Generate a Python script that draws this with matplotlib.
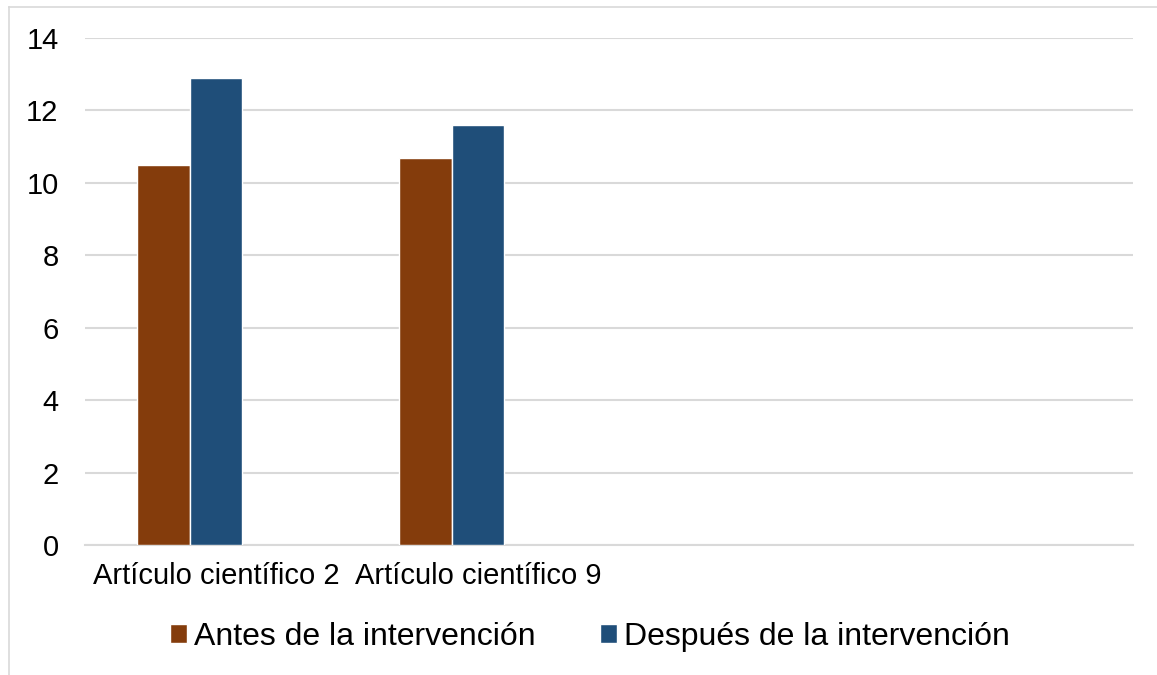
import matplotlib
matplotlib.use("Agg")
import matplotlib.pyplot as plt
from matplotlib.lines import Line2D
import numpy as np

plt.rcParams['font.family'] = ['Liberation Sans', 'DejaVu Sans']

categories = ["Artículo científico 2", "Artículo científico 9", "", ""]
series_names = ["Antes de la intervención", "Después de la intervención"]
antes = [10.5, 10.7, np.nan, np.nan]
despues = [12.9, 11.6, np.nan, np.nan]
yticks = [0, 2, 4, 6, 8, 10, 12, 14]

brown = "#843C0C"
blue = "#1F4E79"
grid = "#D9D9D9"

W, H = 1157, 675
fig = plt.figure(figsize=(W / 100, H / 100), dpi=100)
fig.patch.set_facecolor("white")

# chart-area frame (top and left edges visible)
fig.add_artist(Line2D([9 / W, 9 / W], [0, 1 - 7 / H], transform=fig.transFigure,
                      color=grid, lw=1.2))
fig.add_artist(Line2D([9 / W, 1], [1 - 7 / H, 1 - 7 / H], transform=fig.transFigure,
                      color=grid, lw=1.2))

ax = fig.add_axes([85 / W, 1 - 545 / H, (1133 - 85) / W, (545 - 38) / H])

x = np.arange(len(categories))
w = 0.2
ax.bar(x - w, antes, width=w, color=brown, edgecolor="white", linewidth=1.0,
       label=series_names[0], zorder=3)
ax.bar(x, despues, width=w, color=blue, edgecolor="white", linewidth=1.0,
       label=series_names[1], zorder=3)

ax.set_xlim(-0.5, len(categories) - 0.5)
ax.set_ylim(0, 14)
ax.set_yticks(yticks)
ax.set_yticklabels([str(t) for t in yticks], fontsize=21)
ax.set_xticks(x)
ax.set_xticklabels(categories, fontsize=21)
ax.tick_params(axis="both", length=0, colors="black")
ax.tick_params(axis="y", pad=19)
ax.tick_params(axis="x", pad=12)

ax.grid(axis="y", color=grid, lw=1.5, zorder=0)
for s in ["top", "right", "left"]:
    ax.spines[s].set_visible(False)
ax.spines["bottom"].set_color(grid)
ax.spines["bottom"].set_linewidth(1.5)

fig.legend(loc="center", bbox_to_anchor=(590 / W, 1 - 637 / H), ncol=2,
           frameon=False, fontsize=23, handlelength=0.53, handleheight=0.53,
           handletextpad=0.22, columnspacing=2.0)

fig.savefig("out.png", dpi=100, facecolor="white")
